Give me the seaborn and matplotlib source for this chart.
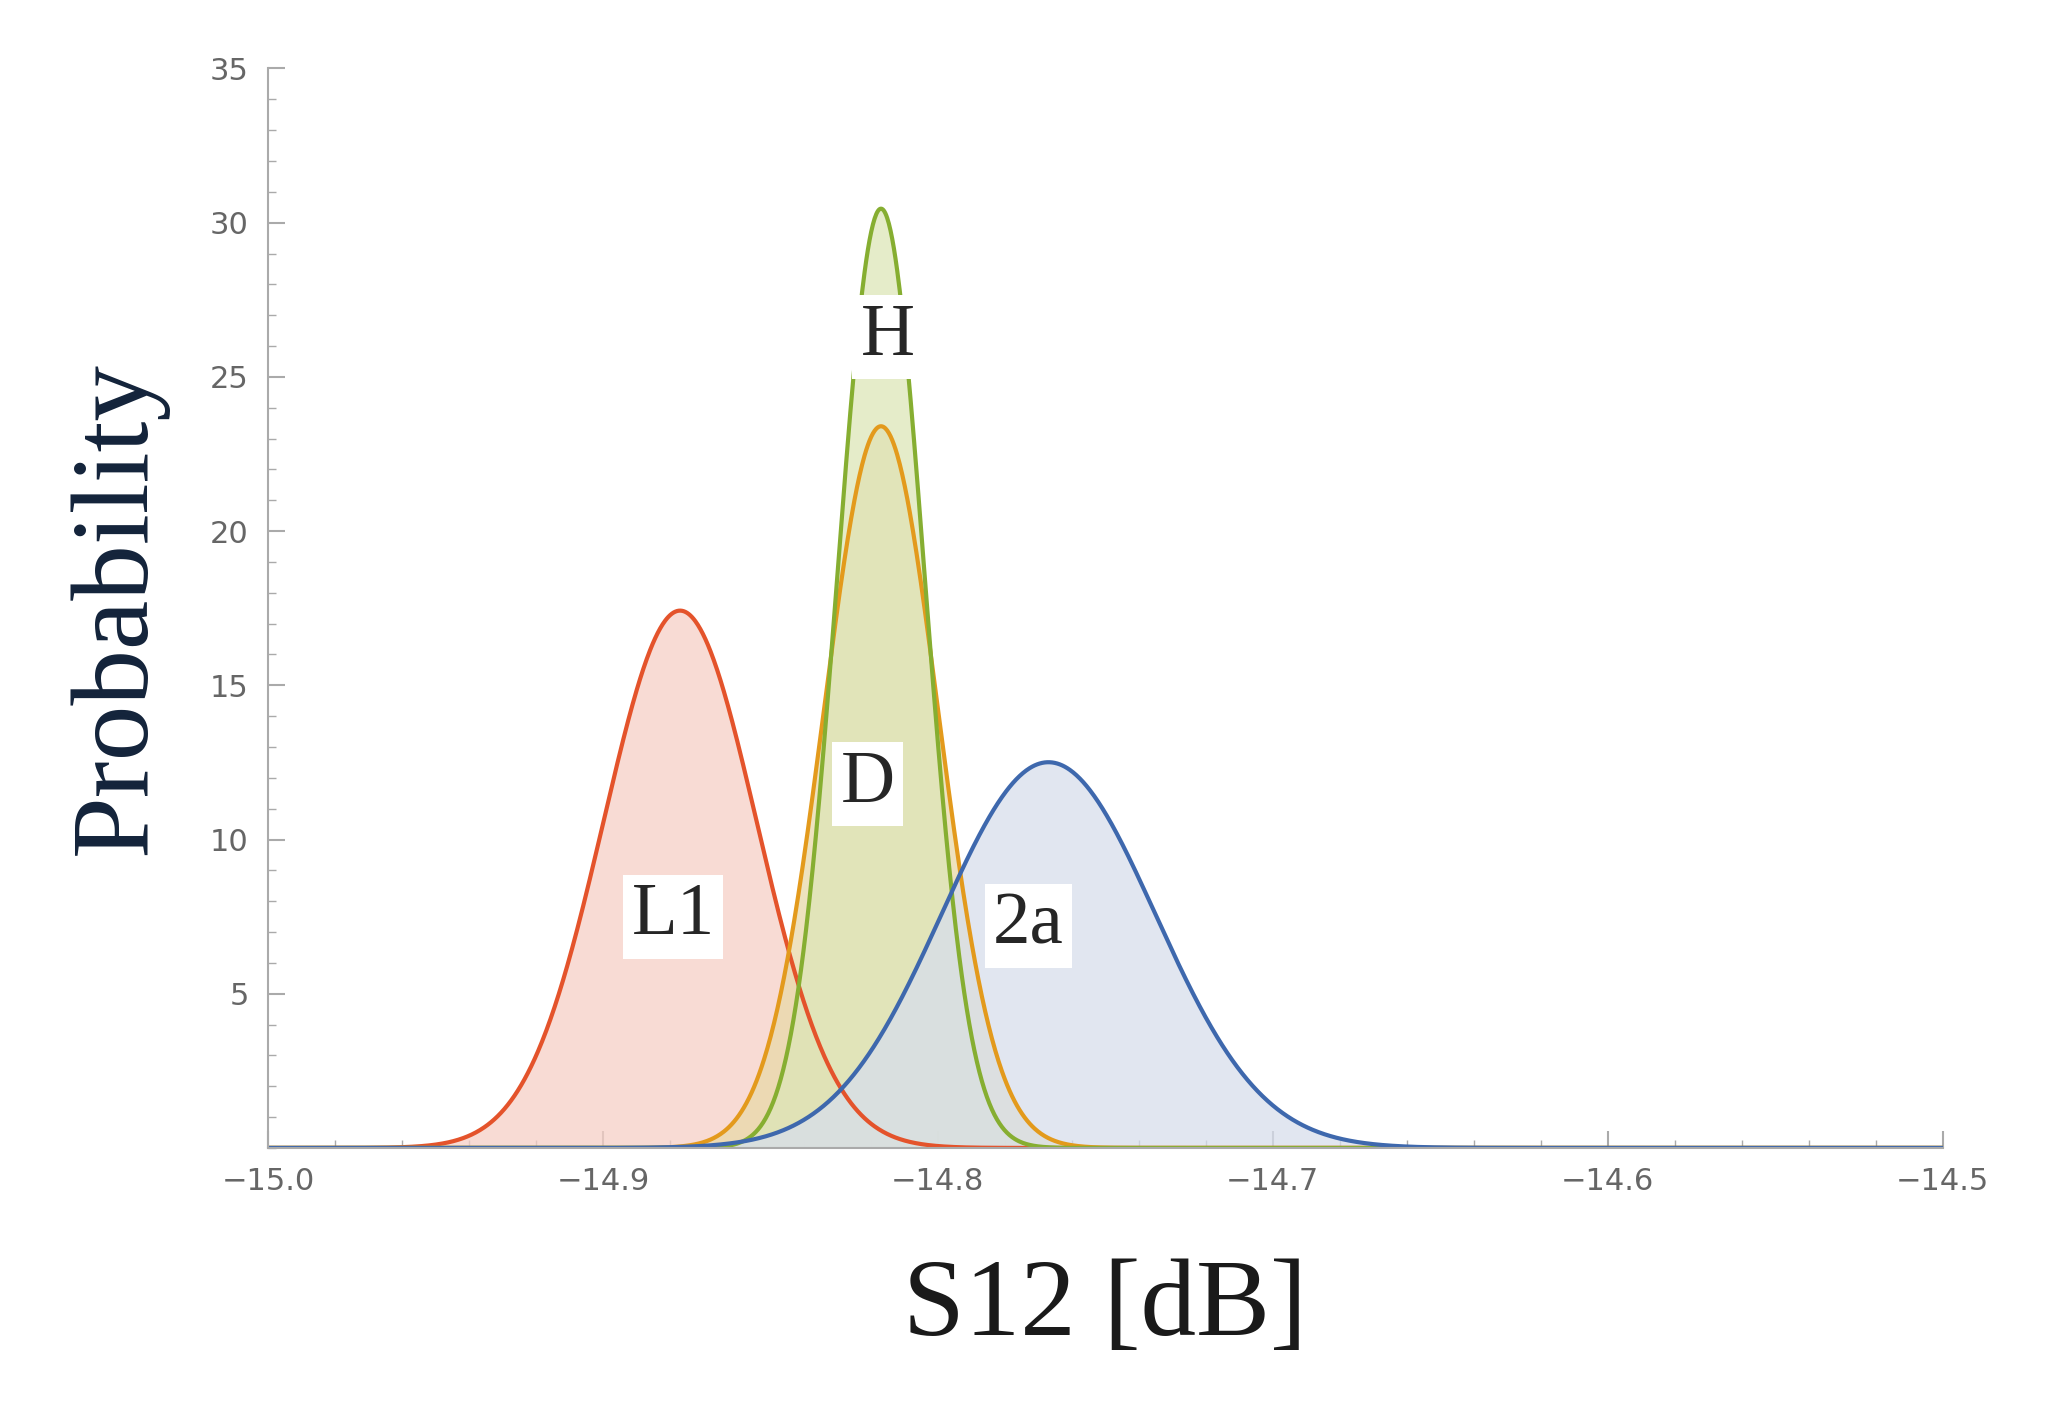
import numpy as np
import matplotlib.pyplot as plt
import seaborn as sns

# normal fits: mean, sigma
names = ['L1', 'D', 'H', '2a']
means = [-14.877, -14.817, -14.817, -14.767]
sigmas = [0.0229, 0.01705, 0.0131, 0.0319]
line_colors = ['#E4532B', '#E39A1C', '#86AE31', '#3E68AD']
fill_colors = ['#F6CFC6', '#E9D9A8', '#DDE6B8', '#D7DEEC']
label_x = [-14.879, -14.821, -14.815, -14.773]
label_y = [7.5, 11.8, 26.3, 7.2]

sns.set_style('white')
fig = plt.figure(figsize=(20.47, 14.26), dpi=100)
ax = fig.add_axes([0.131, 0.195, 0.818, 0.757])

x = np.linspace(-15.0, -14.5, 2000)
for m, s, lc, fc in zip(means, sigmas, line_colors, fill_colors):
    y = np.exp(-0.5 * ((x - m) / s) ** 2) / (s * np.sqrt(2 * np.pi))
    ax.fill_between(x, 0, y, color=fc, alpha=0.75, lw=0)
for m, s, lc in zip(means, sigmas, line_colors):
    y = np.exp(-0.5 * ((x - m) / s) ** 2) / (s * np.sqrt(2 * np.pi))
    sns.lineplot(x=x, y=y, color=lc, lw=3, ax=ax)

for n, lx, ly in zip(names, label_x, label_y):
    ax.text(lx, ly, n, ha='center', va='center', fontsize=54, family='Liberation Serif',
            bbox=dict(facecolor='white', edgecolor='none', pad=6))

ax.set_xlim(-15.0, -14.5)
ax.set_ylim(0, 35)
ax.set_xticks(np.arange(-15.0, -14.49, 0.1))
ax.set_xticklabels(['\u221215.0', '\u221214.9', '\u221214.8', '\u221214.7', '\u221214.6', '\u221214.5'])
ax.set_yticks([5, 10, 15, 20, 25, 30, 35])
ax.set_xticks(np.arange(-15.0, -14.49, 0.02), minor=True)
ax.set_yticks(np.arange(0, 35.1, 1), minor=True)
ax.tick_params(which='both', direction='in', bottom=True, left=True,
               colors='#aaaaaa', labelcolor='#666666', labelsize=22)
ax.tick_params(which='major', length=12, width=1.5, pad=14)
ax.tick_params(which='minor', length=6, width=1)
for sp in ['top', 'right']:
    ax.spines[sp].set_visible(False)
for sp in ['left', 'bottom']:
    ax.spines[sp].set_color('#aaaaaa')
    ax.spines[sp].set_linewidth(1.5)

ax.set_xlabel('S12 [dB]', fontsize=80, family='Liberation Serif', color='#1a1a1a', labelpad=45)
ax.set_ylabel('Probability', fontsize=80, family='Liberation Serif', color='#13233a', labelpad=30)

fig.savefig('out.png', dpi=100)
